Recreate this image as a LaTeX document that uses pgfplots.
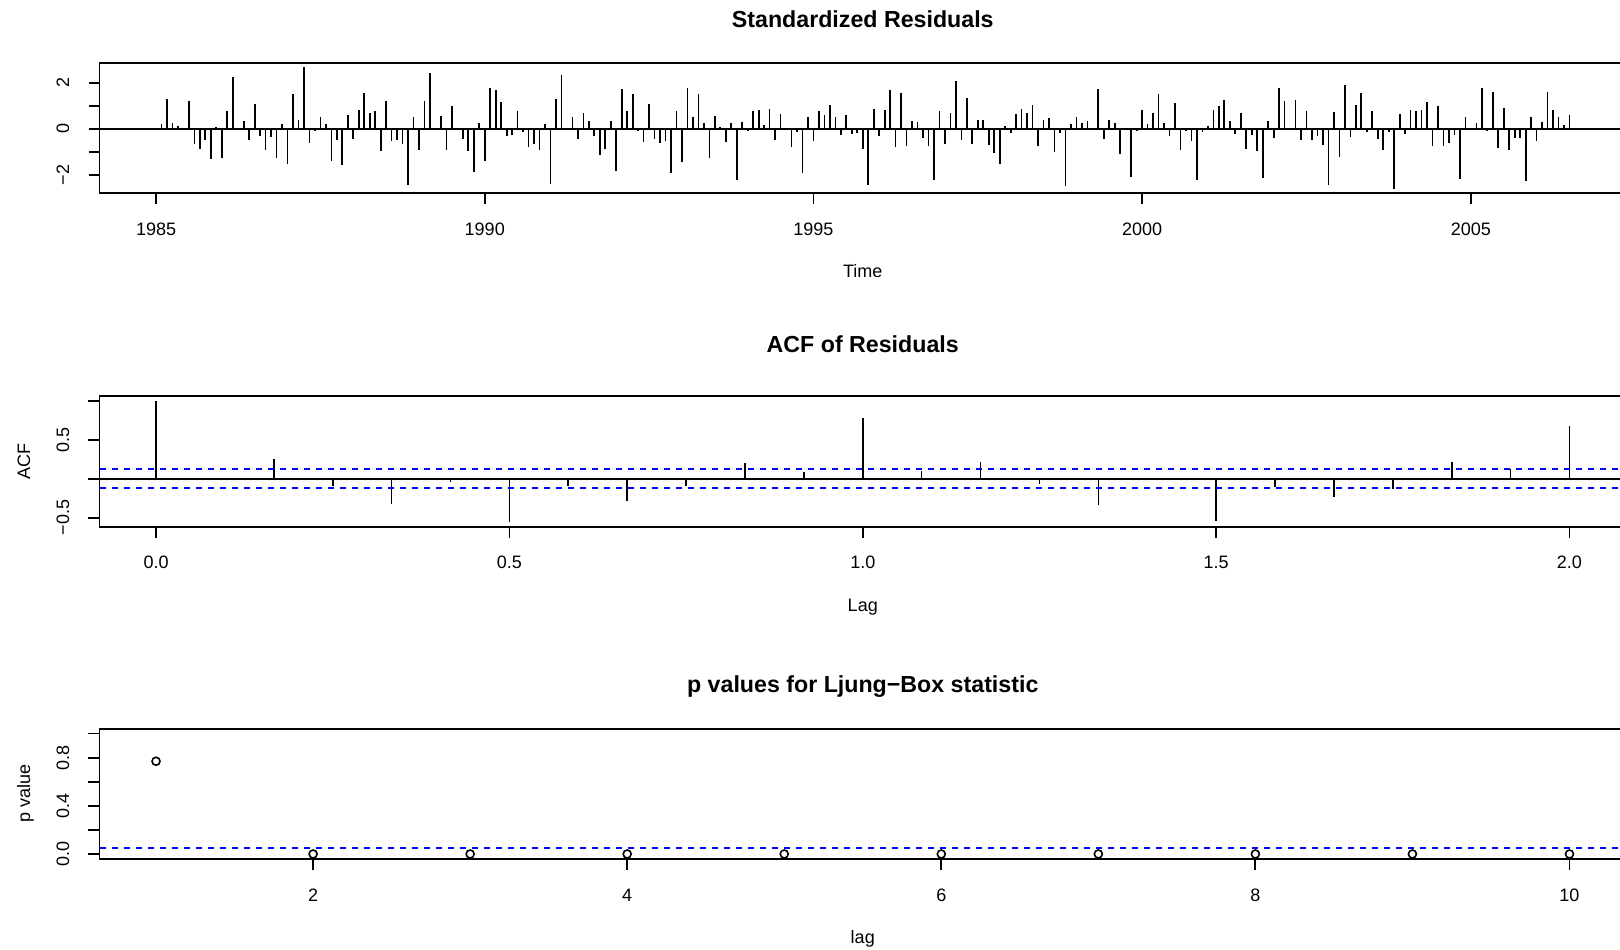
\documentclass[border=0pt]{standalone}
\usepackage{fontspec}
\setmainfont{Liberation Sans}
\usepackage{pgfplots}
\usepackage{pgfplotstable}
\pgfplotsset{compat=1.18}

% standardized residuals, month index m = 0 (Jan 1985) ... 258
\pgfplotstableread[row sep=\\]{
m r\\
0 0.03\\ 1 0.22\\ 2 1.29\\ 3 0.27\\ 4 0.14\\ 5 0.02\\ 6 1.21\\ 7 -0.66\\ 8 -0.85\\ 9 -0.46\\
10 -1.29\\ 11 0.07\\ 12 -1.25\\ 13 0.78\\ 14 2.26\\ 15 0.03\\ 16 0.35\\ 17 -0.46\\ 18 1.09\\ 19 -0.30\\
20 -0.92\\ 21 -0.36\\ 22 -1.25\\ 23 0.20\\ 24 -1.54\\ 25 1.51\\ 26 0.37\\ 27 2.68\\ 28 -0.62\\ 29 -0.09\\
30 0.52\\ 31 0.20\\ 32 -1.38\\ 33 -0.46\\ 34 -1.58\\ 35 0.62\\ 36 -0.43\\ 37 0.82\\ 38 1.55\\ 39 0.68\\
40 0.79\\ 41 -0.95\\ 42 1.21\\ 43 -0.53\\ 44 -0.46\\ 45 -0.63\\ 46 -2.45\\ 47 0.53\\ 48 -0.92\\ 49 1.21\\
50 2.42\\ 51 -0.06\\ 52 0.58\\ 53 -0.92\\ 54 0.99\\ 55 0.04\\ 56 -0.43\\ 57 -0.95\\ 58 -1.88\\ 59 0.26\\
60 -1.38\\ 61 1.77\\ 62 1.67\\ 63 1.18\\ 64 -0.30\\ 65 -0.26\\ 66 0.76\\ 67 -0.12\\ 68 -0.78\\ 69 -0.63\\
70 -0.91\\ 71 0.22\\ 72 -2.39\\ 73 1.28\\ 74 2.33\\ 75 0.03\\ 76 0.50\\ 77 -0.45\\ 78 0.69\\ 79 0.33\\
80 -0.32\\ 81 -1.12\\ 82 -0.86\\ 83 0.33\\ 84 -1.81\\ 85 1.73\\ 86 0.79\\ 87 1.51\\ 88 -0.09\\ 89 -0.56\\
90 1.09\\ 91 -0.43\\ 92 -0.60\\ 93 -0.53\\ 94 -1.93\\ 95 0.79\\ 96 -1.44\\ 97 1.78\\ 98 0.50\\ 99 1.51\\
100 0.26\\ 101 -1.24\\ 102 0.58\\ 103 0.10\\ 104 -0.55\\ 105 0.26\\ 106 -2.23\\ 107 0.30\\ 108 -0.10\\ 109 0.76\\
110 0.83\\ 111 0.17\\ 112 0.86\\ 113 -0.46\\ 114 0.65\\ 115 -0.03\\ 116 -0.78\\ 117 -0.14\\ 118 -1.91\\ 119 0.53\\
120 -0.50\\ 121 0.79\\ 122 0.62\\ 123 1.05\\ 124 0.52\\ 125 -0.26\\ 126 0.60\\ 127 -0.22\\ 128 -0.19\\ 129 -0.86\\
130 -2.42\\ 131 0.86\\ 132 -0.30\\ 133 0.83\\ 134 1.70\\ 135 -0.78\\ 136 1.57\\ 137 -0.72\\ 138 0.33\\ 139 0.32\\
140 -0.40\\ 141 -0.75\\ 142 -2.23\\ 143 0.76\\ 144 -0.66\\ 145 0.69\\ 146 2.09\\ 147 -0.49\\ 148 1.34\\ 149 -0.66\\
150 0.40\\ 151 0.37\\ 152 -0.69\\ 153 -1.04\\ 154 -1.54\\ 155 0.12\\ 156 -0.16\\ 157 0.66\\ 158 0.86\\ 159 0.69\\
160 1.05\\ 161 -0.75\\ 162 0.40\\ 163 0.47\\ 164 -0.98\\ 165 -0.19\\ 166 -2.47\\ 167 0.20\\ 168 0.53\\ 169 0.27\\
170 0.35\\ 171 0.03\\ 172 1.73\\ 173 -0.42\\ 174 0.37\\ 175 0.24\\ 176 -1.08\\ 177 0.02\\ 178 -2.07\\ 179 -0.07\\
180 0.81\\ 181 0.23\\ 182 0.69\\ 183 1.53\\ 184 0.27\\ 185 -0.32\\ 186 1.11\\ 187 -0.91\\ 188 -0.09\\ 189 -0.50\\
190 -2.23\\ 191 -0.13\\ 192 0.14\\ 193 0.83\\ 194 0.98\\ 195 1.27\\ 196 0.36\\ 197 -0.23\\ 198 0.69\\ 199 -0.86\\
200 -0.27\\ 201 -0.94\\ 202 -2.12\\ 203 0.35\\ 204 -0.40\\ 205 1.76\\ 206 1.21\\ 207 0.02\\ 208 1.24\\ 209 -0.49\\
210 0.78\\ 211 -0.49\\ 212 -0.30\\ 213 -0.70\\ 214 -2.45\\ 215 0.73\\ 216 -1.22\\ 217 1.90\\ 218 -0.33\\ 219 1.02\\
220 1.58\\ 221 -0.12\\ 222 0.78\\ 223 -0.43\\ 224 -0.89\\ 225 -0.14\\ 226 -2.59\\ 227 0.66\\ 228 -0.20\\ 229 0.83\\
230 0.76\\ 231 0.83\\ 232 1.19\\ 233 -0.73\\ 234 1.01\\ 235 -0.72\\ 236 -0.59\\ 237 -0.27\\ 238 -2.19\\ 239 0.52\\
240 0.02\\ 241 0.26\\ 242 1.77\\ 243 -0.10\\ 244 1.60\\ 245 -0.82\\ 246 0.91\\ 247 -0.91\\ 248 -0.37\\ 249 -0.40\\
250 -2.26\\ 251 0.52\\ 252 -0.50\\ 253 0.29\\ 254 1.60\\ 255 0.83\\ 256 0.50\\ 257 0.16\\ 258 0.60\\
}\resid

% ACF of residuals, lag index k (lag = k/12)
\pgfplotstableread[row sep=\\]{
k acf\\
0 1.00\\ 1 -0.02\\ 2 0.25\\ 3 -0.09\\ 4 -0.33\\ 5 -0.04\\ 6 -0.56\\ 7 -0.09\\ 8 -0.28\\ 9 -0.09\\
10 0.20\\ 11 0.09\\ 12 0.78\\ 13 0.10\\ 14 0.21\\ 15 -0.07\\ 16 -0.34\\ 17 -0.01\\ 18 -0.54\\ 19 -0.10\\
20 -0.24\\ 21 -0.13\\ 22 0.22\\ 23 0.12\\ 24 0.68\\
}\acftab

% Ljung-Box p values
\pgfplotstableread[row sep=\\]{
lag p\\
1 0.77\\ 2 0.0\\ 3 0.0\\ 4 0.0\\ 5 0.0\\ 6 0.0\\ 7 0.0\\ 8 0.0\\ 9 0.0\\ 10 0.0\\
}\pvtab

\pgfplotsset{
  rpanel/.style={
    scale only axis, width=763.25pt, height=65.35pt,
    anchor=south west,
    axis line style={line width=0.9pt},
    tick style={line width=0.9pt, black},
    tick align=outside, major tick length=5.5pt,
    xtick pos=lower, ytick pos=left,
    minor tick num=0,
    tick label style={font=\fontsize{9}{10}\selectfont},
    xticklabel style={anchor=base, yshift=-15.6pt},
    yticklabel style={xshift=-9.7pt, rotate=90, anchor=base},
    every axis title/.style={at={(axis description cs:0.5,1)}, anchor=base,
      font=\bfseries\fontsize{11.6}{13}\selectfont},
    every axis x label/.style={at={(axis description cs:0.5,0)}, anchor=base,
      yshift=-42.25pt, font=\fontsize{9}{10}\selectfont},
    every axis y label/.style={at={(axis description cs:-0.0455,0.5)}, rotate=90,
      anchor=base, font=\fontsize{9}{10}\selectfont},
    clip=true,
  },
}

\begin{document}
\begin{tikzpicture}[x=1pt,y=1pt]
\useasboundingbox (0,0) rectangle (810,474.5);
\clip (0,0) rectangle (810,474.5);

% ---- Standardized residuals
\begin{axis}[rpanel, at={(49.75pt,377.85pt)},
  xmin=-10.32, xmax=268.32, ymin=-2.79, ymax=2.88,
  xtick={0,60,120,180,240}, xticklabels={1985,1990,1995,2000,2005},
  ytick={-2,-1,0,1,2}, yticklabels={{−2},{},{0},{},{2}},
  title={Standardized Residuals}, title style={yshift=17.8pt},
  xlabel={Time}]
\addplot[ycomb, black, line width=0.85pt, no markers] table[x=m, y=r] {\resid};
\addplot[black, line width=0.8pt] coordinates {(-10.32,0) (268.32,0)};
\end{axis}

% ---- ACF of residuals
\begin{axis}[rpanel, at={(49.75pt,211.15pt)},
  xmin=-0.96, xmax=24.96, ymin=-0.615, ymax=1.06,
  xtick={0,6,12,18,24}, xticklabels={0.0,0.5,1.0,1.5,2.0},
  ytick={-0.5,0,0.5,1}, yticklabels={{−0.5},{},{0.5},{}},
  title={ACF of Residuals}, title style={yshift=21.85pt},
  xlabel={Lag}, ylabel={ACF}]
\addplot[ycomb, black, line width=0.8pt, no markers] table[x=k, y=acf] {\acftab};
\addplot[black, line width=0.8pt] coordinates {(-0.96,0) (24.96,0)};
\addplot[blue, line width=0.8pt, dash pattern=on 3pt off 3pt] coordinates {(-0.96,0.1218) (24.96,0.1218)};
\addplot[blue, line width=0.8pt, dash pattern=on 3pt off 3pt] coordinates {(-0.96,-0.1218) (24.96,-0.1218)};
\end{axis}

% ---- Ljung-Box p values
\begin{axis}[rpanel, at={(49.75pt,44.85pt)},
  xmin=0.64, xmax=10.36, ymin=-0.044, ymax=1.041,
  xtick={2,4,6,8,10}, xticklabels={2,4,6,8,10},
  ytick={0,0.2,0.4,0.6,0.8,1}, yticklabels={{0.0},{},{0.4},{},{0.8},{}},
  title={p values for Ljung−Box statistic}, title style={yshift=18.2pt},
  xlabel={lag}, ylabel={p value}]
\addplot[blue, line width=0.8pt, dash pattern=on 3pt off 3pt] coordinates {(0.64,0.05) (10.36,0.05)};
\addplot[only marks, mark=o, mark size=2pt, black, mark options={line width=0.8pt}] table[x=lag, y=p] {\pvtab};
\end{axis}
\end{tikzpicture}
\end{document}
